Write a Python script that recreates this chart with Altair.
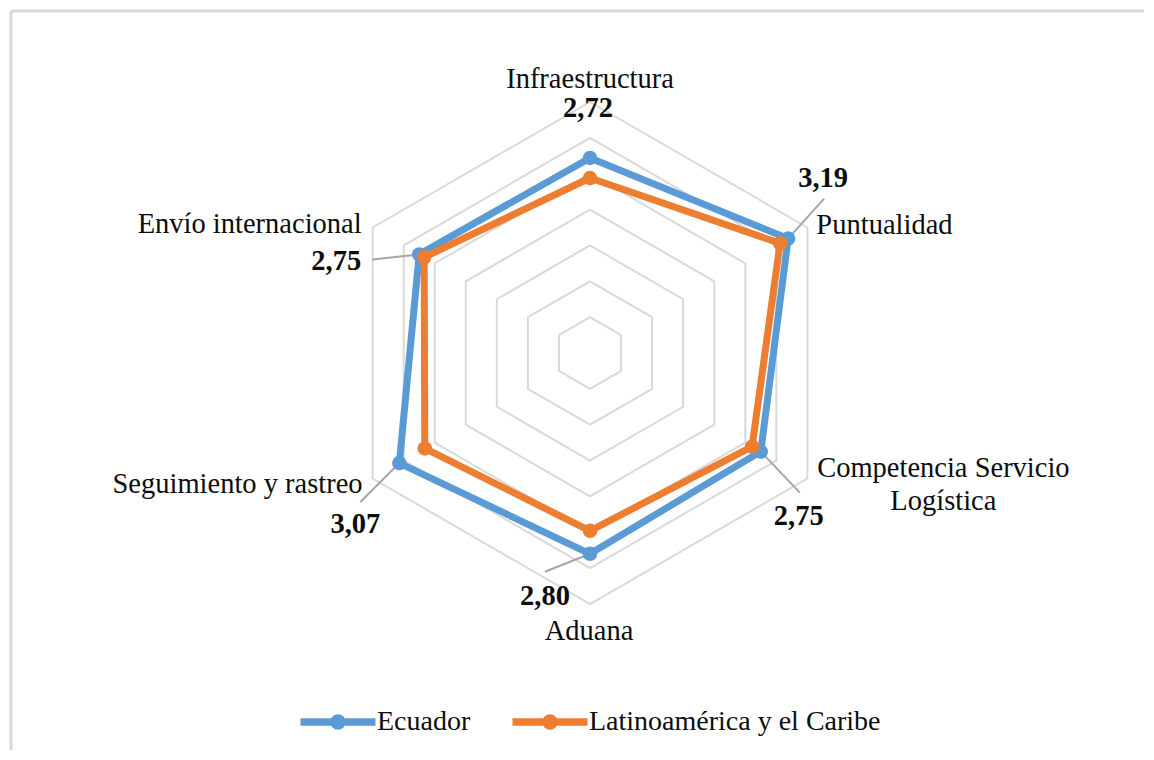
import altair as alt
import pandas as pd

# ---------------- data ----------------
categories = ["Infraestructura", "Puntualidad", "Competencia Servicio Logística",
              "Aduana", "Seguimiento y rastreo", "Envío internacional"]
category_labels = ["Infraestructura", "Puntualidad", "Competencia Servicio\nLogística",
                   "Aduana", "Seguimiento y rastreo", "Envío internacional"]
ecuador = [2.72, 3.19, 2.75, 2.80, 3.07, 2.75]
lac = [2.44, 3.06, 2.61, 2.48, 2.66, 2.67]
series_names = ["Ecuador", "Latinoamérica y el Caribe"]
grid_levels = [0.5, 1.0, 1.5, 2.0, 2.5, 3.0, 3.5]
r_max = 3.5

# ---------------- layout / style ----------------
W, H = 1136, 742
CX, CY = 582, 345          # centre of the radar inside the plot area (px)
K = 251 / r_max            # px per unit
BLUE, ORANGE = "#5b9bd5", "#ed7d31"
GRID = "#d9d9d9"
LEAD = "#a6a6a6"
TXT = "#0d0d0d"
FONT = "Liberation Serif"
FS = 28.5

x_scale = alt.Scale(domain=[-CX / K, (W - CX) / K], nice=False, zero=False)
y_scale = alt.Scale(domain=[-(H - CY) / K, CY / K], nice=False, zero=False)
X = alt.X("x:Q", scale=x_scale, axis=None)
Y = alt.Y("y:Q", scale=y_scale, axis=None)

def polar(chart, rexpr="datum.value"):
    return chart.transform_calculate(
        x=f"({rexpr}) * sin(datum.idx * PI / 3)",
        y=f"({rexpr}) * cos(datum.idx * PI / 3)",
    )

# tables
grid_df = pd.DataFrame([{"level": lv, "idx": i, "value": lv}
                        for lv in grid_levels for i in range(7)])
ser_rows = []
for s, vals in zip(series_names, [ecuador, lac]):
    for i in range(7):
        ser_rows.append({"series": s, "idx": i, "value": vals[i % 6]})
ser_df = pd.DataFrame(ser_rows)
lbl_df = pd.DataFrame({"idx": list(range(6)), "label": category_labels,
                       "value": ecuador})

# leader-line pixel offsets from the Ecuador point (dx, dy screen)
LEADER = {1: (36, -40), 2: (39, 41), 3: (-45, 18), 4: (-39, 39), 5: (-47, 5)}
lead_df = pd.DataFrame([{"idx": i, "value": ecuador[i], "ox": o[0], "oy": o[1]}
                        for i, o in LEADER.items()])

# label placement (align, dx, dy) relative to outer vertex / Ecuador point
CAT_POS = {0: ("center", 0, -14), 1: ("left", 9, 6), 2: ("center", 136, -2),
           3: ("center", -1, 36), 4: ("right", -10, 14), 5: ("right", -11, 5)}
VAL_POS = {0: (-2, -41), 1: (35, -52), 2: (38, 73), 3: (-45, 51),
           4: (-44, 70), 5: (-83, 16)}

PATH = ("M-1.875,0L1.875,0M0.2,0A0.2,0.2,0,1,1,-0.2,0"
        "A0.2,0.2,0,1,1,0.2,0Z")

color_enc = alt.Color(
    "series:N",
    scale=alt.Scale(domain=series_names, range=[BLUE, ORANGE]),
    legend=alt.Legend(
        title=None, orient="none", legendX=306, legendY=690,
        direction="horizontal", symbolType=PATH, symbolSize=1600,
        symbolStrokeWidth=7.5, labelFont=FONT, labelFontSize=28,
        labelColor=TXT, labelOffset=15, columnPadding=26, padding=0,
        labelLimit=1000,
    ),
)

layers = []

# frame (left and top edges)
frame = pd.DataFrame({"a": [0]})
layers.append(alt.Chart(frame).mark_rule(color=GRID, strokeWidth=3).encode(
    x=alt.value(3), y=alt.value(3), y2=alt.value(H)))
layers.append(alt.Chart(frame).mark_rule(color=GRID, strokeWidth=3).encode(
    x=alt.value(3), x2=alt.value(W), y=alt.value(3)))

# grid hexagons
layers.append(polar(alt.Chart(grid_df)).mark_line(color=GRID, strokeWidth=2).encode(
    x=X, y=Y, detail="level:N", order="idx:Q"))

# series
for s, col in zip(series_names, [BLUE, ORANGE]):
    base = polar(alt.Chart(ser_df).transform_filter(alt.datum.series == s))
    layers.append(base.mark_line(strokeWidth=7, strokeJoin="round").encode(
        x=X, y=Y, order="idx:Q", color=color_enc))
    if s == series_names[0]:
        layers.append(polar(alt.Chart(lead_df)).transform_calculate(
            x2="datum.x + datum.ox / %f" % K,
            y2="datum.y - datum.oy / %f" % K,
        ).mark_rule(color=LEAD, strokeWidth=2).encode(
            x=X, y=Y, x2="x2:Q", y2="y2:Q"))
    layers.append(base.transform_filter(alt.datum.idx < 6).mark_circle(
        size=210, opacity=1, color=col).encode(x=X, y=Y))

# category labels
for i in range(6):
    al, dx, dy = CAT_POS[i]
    layers.append(polar(alt.Chart(lbl_df).transform_filter(alt.datum.idx == i),
                        rexpr=str(r_max)).mark_text(
        align=al, dx=dx, dy=dy, baseline="alphabetic", font=FONT,
        fontSize=FS, color=TXT, lineBreak="\n", lineHeight=33,
    ).encode(x=X, y=Y, text="label:N"))

# value labels (Ecuador)
for i in range(6):
    dx, dy = VAL_POS[i]
    layers.append(polar(alt.Chart(lbl_df).transform_filter(alt.datum.idx == i))
                  .transform_calculate(
                      vlabel="replace(format(datum.value, '.2f'), '.', ',')")
                  .mark_text(align="center", dx=dx, dy=dy, baseline="alphabetic",
                             font=FONT, fontSize=FS, fontWeight="bold", color=TXT)
                  .encode(x=X, y=Y, text="vlabel:N"))

chart = alt.layer(*layers).properties(width=W, height=H, padding=0).configure_view(
    stroke=None)

chart.save("out.html", embed_options={"renderer": "svg", "actions": False})
